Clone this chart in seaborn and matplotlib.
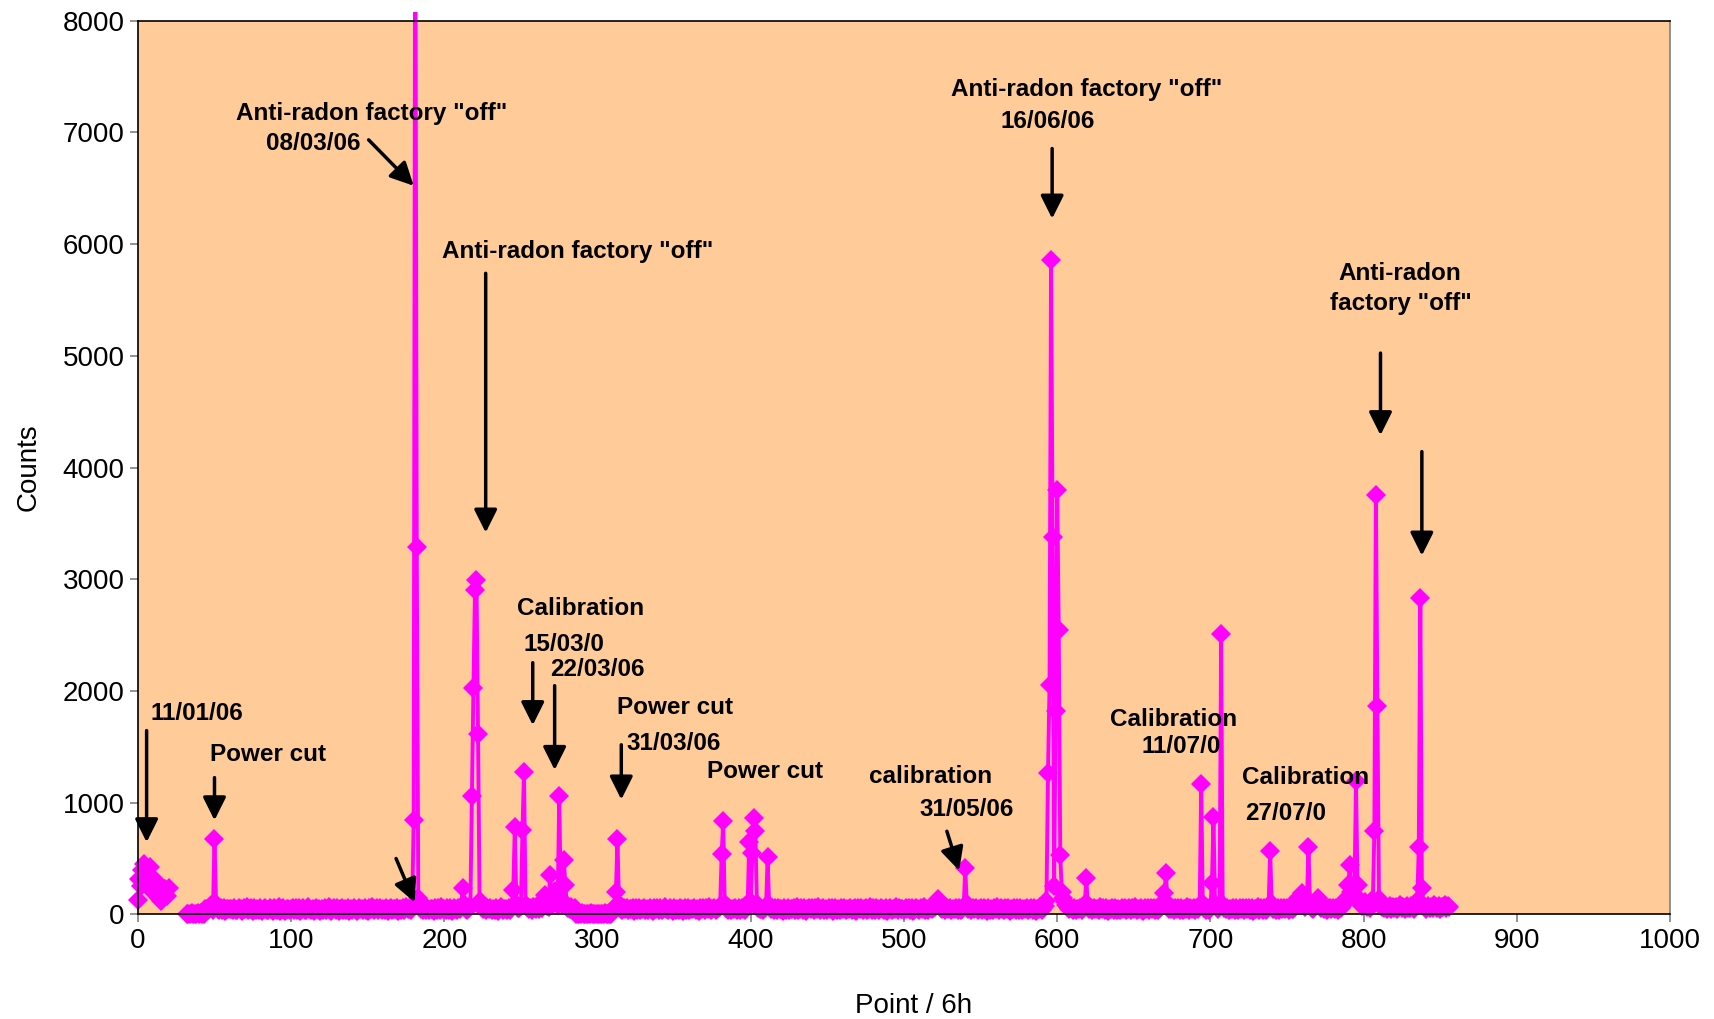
import numpy as np
import pandas as pd
import seaborn as sns
import matplotlib.pyplot as plt
from matplotlib.transforms import Bbox, TransformedBbox

nan = np.nan

# counts for each 6h point, 20 points per row (row comment = first point)
counts = [
    130, 320, 250, 400, 450, 380, 290, 300, 420, 260, 200, 310, 280, 180, 150, 120, 200, 170, 230, 160,  # 0
    240, nan, nan, nan, nan, nan, nan, nan, nan, nan, nan, nan, 0, 6, 0, 12, 0, 4, 0, 8,  # 20
    0, 10, 0, 5, 45, 52, 38, 60, 85, 41, 676, 95, 48, 36, 55, 42, 61, 33, 47, 50,  # 40
    44, 52, 38, 57, 41, 35, 60, 47, 29, 53, 45, 62, 36, 49, 55, 31, 58, 43, 50, 39,  # 60
    56, 34, 48, 61, 42, 37, 54, 46, 30, 59, 51, 40, 63, 33, 45, 57, 28, 52, 44, 38,  # 80
    47, 60, 35, 53, 41, 58, 32, 49, 55, 43, 36, 62, 46, 39, 51, 27, 57, 44, 50, 34,  # 100
    52, 41, 59, 37, 48, 63, 30, 45, 54, 40, 56, 33, 47, 61, 38, 50, 43, 58, 31, 49,  # 120
    39, 55, 46, 32, 60, 44, 51, 36, 57, 42, 29, 53, 48, 62, 35, 45, 58, 40, 54, 37,  # 140
    50, 43, 61, 34, 47, 56, 38, 52, 45, 59, 33, 49, 41, 57, 36, 63, 44, 51, 39, 55,  # 160
    843, 9500, 3290, 150, 72, 48, 35, 56, 43, 60, 38, 51, 46, 33, 58, 41, 53, 37, 62, 45,  # 180
    49, 36, 57, 42, 54, 31, 60, 47, 39, 55, 44, 68, 235, 90, 52, 41, 58, 75, 1057, 2027,  # 200
    2900, 2996, 1616, 120, 85, 47, 59, 38, 53, 44, 61, 35, 50, 42, 57, 33, 48, 63, 40, 52,  # 220
    46, 37, 58, 43, 66, 218, 779, 95, 55, 60, 74, 752, 1273, 88, 62, 49, 57, 41, 70, 53,  # 240
    45, 64, 51, 80, 58, 137, 170, 76, 66, 352, 130, 95, 210, 120, 85, 1060, 140, 90, 487, 260,  # 260
    70, 55, 48, 62, 44, 57, 0, 0, 3, 0, 8, 0, 0, 5, 0, 0, 10, 0, 0, 4,  # 280
    0, 0, 6, 0, 0, 9, 0, 0, 3, 0, 47, 58, 200, 676, 95, 52, 39, 61, 44, 55,  # 300
    38, 50, 46, 59, 33, 54, 42, 61, 37, 49, 56, 40, 52, 35, 58, 45, 31, 53, 47, 60,  # 320
    41, 55, 36, 50, 62, 44, 39, 57, 48, 34, 59, 43, 51, 38, 56, 46, 30, 54, 42, 61,  # 340
    37, 52, 45, 58, 40, 49, 33, 60, 47, 55, 39, 53, 44, 62, 36, 50, 57, 41, 48, 65,  # 360
    70, 537, 833, 90, 55, 43, 59, 38, 51, 46, 60, 35, 54, 42, 57, 48, 36, 61, 100, 646,  # 380
    110, 548, 860, 744, 95, 58, 44, 52, 39, 60, 75, 513, 80, 47, 56, 41, 53, 37, 59, 45,  # 400
    50, 34, 57, 43, 61, 38, 52, 46, 55, 40, 63, 36, 49, 58, 42, 54, 31, 47, 60, 44,  # 420
    53, 39, 56, 45, 62, 35, 48, 57, 41, 51, 37, 59, 46, 54, 33, 60, 43, 50, 38, 55,  # 440
    47, 61, 36, 52, 44, 58, 40, 49, 56, 32, 53, 45, 60, 39, 51, 57, 42, 48, 63, 35,  # 460
    54, 41, 59, 46, 37, 55, 50, 43, 61, 34, 48, 57, 40, 52, 45, 62, 38, 56, 44, 49,  # 480
    36, 58, 47, 53, 42, 60, 33, 51, 55, 44, 39, 57, 46, 62, 41, 50, 35, 54, 48, 59,  # 500
    70, 110, 137, 95, 60, 45, 53, 38, 57, 44, 61, 36, 50, 47, 55, 40, 58, 43, 52, 75,  # 520
    411, 90, 48, 56, 37, 53, 44, 60, 35, 49, 58, 41, 54, 46, 32, 59, 43, 51, 38, 57,  # 540
    45, 62, 40, 53, 48, 36, 56, 44, 59, 33, 50, 47, 61, 39, 54, 42, 57, 35, 52, 46,  # 560
    60, 38, 49, 55, 43, 58, 34, 51, 46, 62, 41, 53, 75, 120, 1263, 2056, 5856, 3378, 250, 1821,  # 580
    3800, 2546, 529, 200, 150, 110, 80, 62, 48, 55, 41, 58, 37, 52, 45, 60, 39, 54, 90, 325,  # 600
    85, 47, 56, 40, 59, 44, 51, 36, 62, 48, 53, 42, 57, 34, 50, 46, 61, 38, 55, 43,  # 620
    52, 39, 58, 45, 60, 35, 49, 54, 41, 57, 47, 63, 37, 51, 44, 59, 33, 53, 46, 56,  # 640
    40, 55, 48, 61, 36, 52, 43, 58, 70, 110, 190, 369, 95, 50, 45, 57, 39, 54, 47, 60,  # 660
    42, 56, 35, 51, 48, 62, 38, 53, 45, 59, 41, 55, 49, 80, 1170, 95, 57, 43, 60, 38,  # 680
    70, 280, 870, 90, 62, 48, 75, 2507, 80, 55, 44, 58, 39, 52, 47, 61, 36, 54, 42, 57,  # 700
    49, 60, 37, 53, 45, 58, 41, 56, 34, 51, 47, 62, 40, 55, 43, 59, 38, 52, 85, 570,  # 720
    90, 46, 57, 41, 54, 36, 60, 48, 53, 44, 61, 39, 56, 45, 50, 70, 120, 150, 110, 85,  # 740
    193, 95, 70, 120, 605, 85, 58, 47, 90, 110, 150, 80, 55, 62, 48, 57, 41, 60, 53, 46,  # 760
    58, 44, 61, 39, 70, 55, 85, 120, 100, 150, 265, 440, 200, 250, 180, 1190, 265, 120, 95, 75,  # 780
    90, 110, 70, 85, 60, 120, 100, 744, 3751, 1861, 137, 80, 62, 55, 70, 48, 60, 75, 52, 66,  # 800
    58, 70, 49, 63, 80, 55, 68, 47, 72, 60, 54, 75, 62, 50, 90, 120, 605, 2830, 237, 85,  # 820
    66, 52, 78, 60, 70, 55, 82, 64, 58, 74, 50, 68, 62, 80, 57, 72, 65,  # 840
]

# text labels: (text, x, y) in data units, centred
labels = [
    ('Anti-radon factory "off"', 152.7, 7169), ('08/03/06', 114.2, 6905),
    ('Anti-radon factory "off"', 287, 5935),
    ('Calibration', 289, 2742), ('15/03/0', 278, 2419), ('22/03/06', 300, 2194),
    ('Power cut', 350.5, 1851), ('31/03/06', 349.8, 1528),
    ('Power cut', 409, 1283),
    ('calibration', 517.5, 1234), ('31/05/06', 541, 940),
    ('Anti-radon factory "off"', 619, 7385), ('16/06/06', 594, 7101),
    ('Calibration', 676, 1743), ('11/07/0', 681, 1499),
    ('Calibration', 762, 1224), ('27/07/0', 749, 901),
    ('Anti-radon', 823.7, 5739), ('factory "off"', 824, 5465),
    ('11/01/06', 38.5, 1802), ('Power cut', 85, 1430),
]

# arrows: tail (x, y) -> head (x, y)
arrows = [
    ((150.6, 6934), (180, 6523)),
    ((227, 5739), (227, 3418)),
    ((257.7, 2253), (257.7, 1694)),
    ((272, 2047), (272, 1293)),
    ((315.5, 1518), (315.5, 1028)),
    ((528, 744), (536, 392)),
    ((596.7, 6856), (596.7, 6229)),
    ((811, 5025), (811, 4290)),
    ((838, 4143), (838, 3212)),
    ((5.7, 1645), (5.7, 646)),
    ((50, 1224), (50, 842)),
    ((168.5, 500), (180.6, 108)),
]

sns.set_style('ticks')
plt.rcParams['font.family'] = ['Liberation Sans', 'DejaVu Sans']
plt.rcParams['text.color'] = 'black'
plt.rcParams['axes.labelcolor'] = 'black'
plt.rcParams['xtick.labelcolor'] = 'black'
plt.rcParams['ytick.labelcolor'] = 'black'

df = pd.DataFrame({'point': np.arange(len(counts)), 'counts': counts}).dropna()
# the run is broken where no data was recorded
df['segment'] = (df.point > 25).astype(int)

fig, ax = plt.subplots(figsize=(17.15, 10.19), dpi=100)
fig.subplots_adjust(left=0.0804, right=0.9738, top=0.9796, bottom=0.1027)
ax.set_facecolor('#FFCC99')

sns.lineplot(data=df, x='point', y='counts', units='segment', estimator=None,
             color='#FF00FF', lw=2.8, marker='D', ms=10.5, mec='#FF00FF',
             mew=0, legend=False, ax=ax)

# let markers spill a little past the frame, like the original
clip = TransformedBbox(Bbox([[-0.01, -0.02], [1.0, 1.01]]), ax.transAxes)
for line in ax.lines:
    line.set_clip_box(clip)

for text, x, y in labels:
    ax.text(x, y, text, ha='center', va='center', fontsize=17.5,
            fontweight='bold', color='black')

for tail, head in arrows:
    ax.annotate('', xy=head, xytext=tail,
                arrowprops=dict(arrowstyle='-|>,head_length=0.5,head_width=0.25',
                                color='black', lw=2.5, mutation_scale=28,
                                shrinkA=0, shrinkB=0))

ax.set_xlim(0, 1000)
ax.set_ylim(0, 8000)
ax.set_xticks(range(0, 1001, 100))
ax.set_yticks(range(0, 8001, 1000))
ax.tick_params(axis='both', labelsize=20, length=6, width=1.2, color='#808080',
               direction='out', labelcolor='black')

for side in ['left', 'bottom', 'top']:
    ax.spines[side].set_color('black')
ax.spines['right'].set_color('#808080')
for side in ax.spines:
    ax.spines[side].set_linewidth(1.2)

ax.set_xlabel('Point / 6h', fontsize=20)
ax.set_ylabel('Counts', fontsize=20)
ax.xaxis.set_label_coords(0.506, -0.088)
ax.yaxis.set_label_coords(-0.063, 0.5)

plt.savefig('out.png', dpi=100)
